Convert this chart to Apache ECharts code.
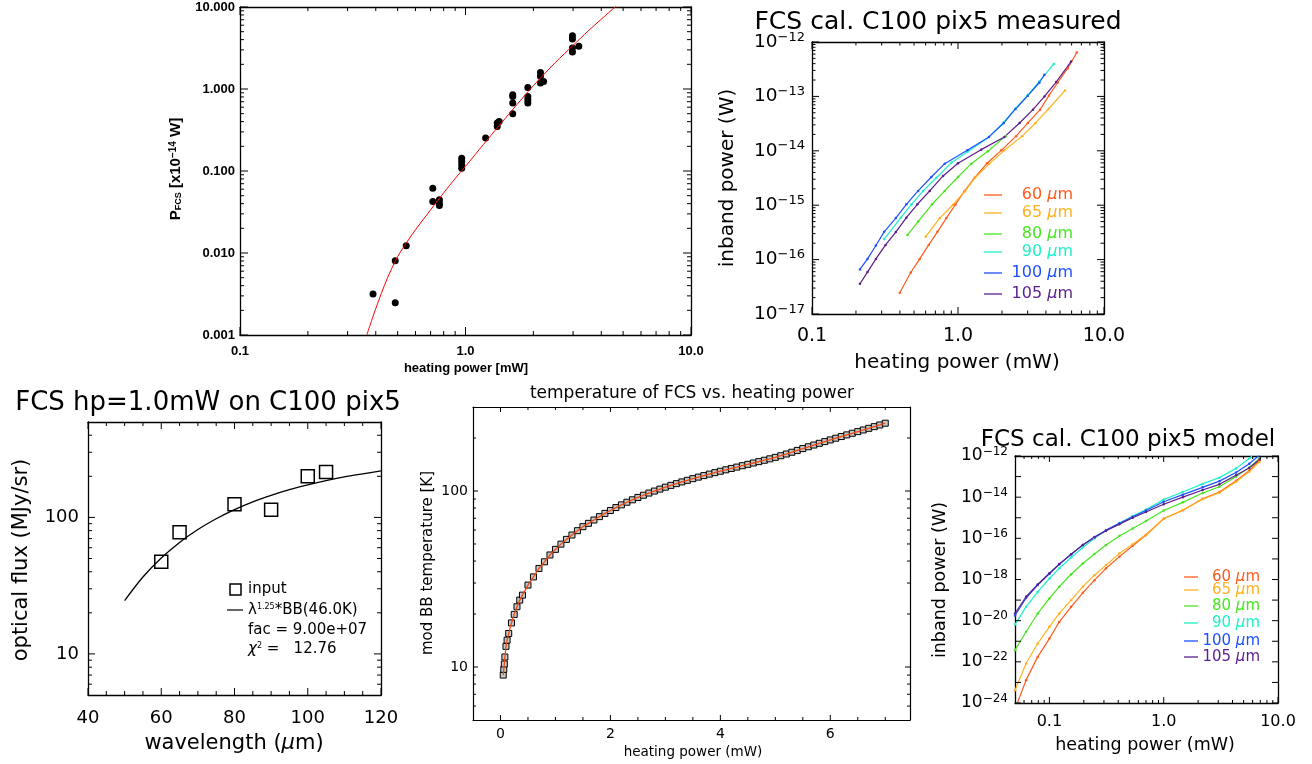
<!DOCTYPE html>
<html>
<head>
<meta charset="utf-8">
<script src="https://cdn.jsdelivr.net/npm/echarts@6/dist/echarts.min.js"></script>
<style>
  html, body { margin: 0; padding: 0; background: #fff; }
  #chart { width: 1312px; height: 764px; }
</style>
</head>
<body>
<div id="chart"></div>
<script>
// panel 1: P_FCS vs heating power (points + fit)
const p1Heat = [0.389, 0.488, 0.488, 0.546, 0.716, 0.716, 0.766, 0.766, 0.766, 0.962, 0.962, 0.962, 0.962,
  1.228, 1.383, 1.383, 1.41, 1.62, 1.62, 1.62, 1.62, 1.89, 1.89, 1.89, 1.89, 2.15, 2.15, 2.15, 2.22,
  2.98, 2.98, 2.98, 2.98, 3.18];
const p1Power = [0.00317, 0.00248, 0.00807, 0.0123, 0.0617, 0.0424, 0.0445, 0.0379, 0.0405, 0.1435, 0.1306, 0.119, 0.1083,
  0.252, 0.349, 0.384, 0.402, 0.851, 0.811, 0.673, 0.499, 1.045, 0.811, 0.74, 0.673, 1.594, 1.426, 1.18, 1.237,
  4.47, 4.07, 3.16, 2.82, 3.31];
const p1FitHeat = [0.365, 0.40, 0.45, 0.50, 0.55, 0.60, 0.70, 0.80, 0.90, 1.0, 1.2, 1.4, 1.6, 1.8, 2.0, 2.5, 3.0, 3.5, 4.0, 4.7];
const p1FitPower = [0.001, 0.0021, 0.0049, 0.0090, 0.0136, 0.0192, 0.0335, 0.054, 0.081, 0.114, 0.21, 0.35, 0.54, 0.79, 1.1, 2.1, 3.4, 5.1, 7.1, 10.5];
const p1XTicks = [0.1, 1, 10];
const p1YTicks = [0.001, 0.01, 0.1, 1, 10];

// panel 2: measured inband power per band
const bands = ['60', '65', '80', '90', '100', '105'];
const m60Heat = [0.399, 0.475, 0.547, 0.630, 0.723, 0.832, 0.959, 1.11, 1.30, 1.58, 1.98, 2.50, 3.01, 3.65, 4.19, 4.82, 5.65, 6.51];
const m60Power = [2.45e-17, 5.8e-17, 1.03e-16, 1.86e-16, 3.24e-16, 5.8e-16, 1.02e-15, 1.83e-15, 3.2e-15, 5.9e-15, 1.02e-14, 1.86e-14, 3.25e-14, 5.7e-14, 1.03e-13, 1.8e-13, 3.3e-13, 6.4e-13];
const m65Heat = [0.601, 0.75, 0.925, 1.12, 1.31, 1.64, 2.08, 2.75, 3.40, 4.17, 5.41];
const m65Power = [2.64e-16, 5.8e-16, 1.02e-15, 1.83e-15, 3.2e-15, 5.8e-15, 1.02e-14, 1.86e-14, 3.25e-14, 5.87e-14, 1.29e-13];
const m80Heat = [0.451, 0.533, 0.664, 0.811, 1.0, 1.233, 1.60, 2.12];
const m80Power = [2.82e-16, 5.0e-16, 1.04e-15, 1.83e-15, 3.3e-15, 5.8e-15, 9.8e-15, 1.86e-14];
const m90Heat = [0.312, 0.406, 0.48, 0.577, 0.711, 0.90, 1.158, 1.63, 2.06, 2.48, 3.01, 3.61, 4.53];
const m90Power = [2.39e-16, 5.9e-16, 1.04e-15, 1.83e-15, 3.2e-15, 6.0e-15, 9.5e-15, 1.8e-14, 3.35e-14, 6.0e-14, 1.07e-13, 1.88e-13, 3.96e-13];
const m100Heat = [0.213, 0.240, 0.274, 0.312, 0.375, 0.443, 0.533, 0.657, 0.811, 1.158, 1.63, 2.06, 2.48, 3.01, 3.61, 3.91];
const m100Power = [6.6e-17, 1.03e-16, 1.82e-16, 3.24e-16, 5.8e-16, 1.04e-15, 1.83e-15, 3.3e-15, 5.8e-15, 1.02e-14, 1.8e-14, 3.25e-14, 5.87e-14, 1.03e-13, 1.8e-13, 2.5e-13];
const m105Heat = [0.213, 0.240, 0.274, 0.319, 0.375, 0.443, 0.527, 0.640, 0.79, 1.0, 1.44, 2.08, 2.64, 3.26, 3.91, 4.70, 5.95];
const m105Power = [3.6e-17, 5.9e-17, 1.03e-16, 1.86e-16, 3.2e-16, 5.9e-16, 1.04e-15, 1.83e-15, 3.45e-15, 5.9e-15, 1.05e-14, 1.8e-14, 3.25e-14, 5.7e-14, 1.0e-13, 1.83e-13, 4.37e-13];
const p2XTicks = [0.1, 1, 10];
const p2YTicks = [1e-17, 1e-16, 1e-15, 1e-14, 1e-13, 1e-12];

// panel 3: optical flux vs wavelength
const inWave = [60, 65, 80, 90, 100, 105];
const inFlux = [47.4, 77.7, 125, 114, 200, 215];
const fitWave = [50, 55, 60, 65, 70, 75, 80, 85, 90, 95, 100, 105, 110, 115, 120];
const fitFlux = [24.6, 36.6, 50.4, 65.6, 81.5, 97.7, 114, 130, 145, 159.5, 173, 186, 198, 208.5, 219];
const p3XTicks = [40, 60, 80, 100, 120];
const p3YTicks = [10, 100];

// panel 4: mod BB temperature vs heating power
const tempHeat = [0.05, 0.06, 0.07, 0.08, 0.1, 0.12, 0.15, 0.2, 0.25, 0.3, 0.35, 0.4,
  0.5, 0.6, 0.7, 0.8, 0.9, 1.0, 1.1, 1.2, 1.3, 1.4, 1.5, 1.6, 1.7, 1.8, 1.9, 2.0,
  2.1, 2.2, 2.3, 2.4, 2.5, 2.6, 2.7, 2.8, 2.9, 3.0, 3.1, 3.2, 3.3, 3.4, 3.5, 3.6, 3.7, 3.8, 3.9, 4.0,
  4.1, 4.2, 4.3, 4.4, 4.5, 4.6, 4.7, 4.8, 4.9, 5.0, 5.1, 5.2, 5.3, 5.4, 5.5, 5.6, 5.7, 5.8, 5.9, 6.0,
  6.1, 6.2, 6.3, 6.4, 6.5, 6.6, 6.7, 6.8, 6.9, 7.0];
const tempK = [9.0, 9.7, 10.4, 11.4, 13.1, 14.2, 15.5, 17.8, 19.9, 22.0, 24.0, 25.6,
  29.2, 32.5, 36.3, 39.6, 43.3, 46.6, 49.9, 53.1, 56.2, 59.5, 62.7, 65.5, 68.4, 71.5, 74.6, 77.5,
  80.5, 83.4, 86.3, 89.1, 91.9, 94.6, 97.3, 99.9, 102.5, 105.1, 107.6, 110.1, 112.6, 115.0, 117.5, 119.9, 122.3, 124.7, 127.1, 129.5,
  131.9, 134.3, 136.7, 139.2, 141.7, 144.2, 146.8, 149.5, 152.3, 155.3, 158.6, 162.2, 166.0, 170.0, 174.2, 178.3, 182.4, 186.6, 190.8, 195.1,
  199.4, 203.8, 208.3, 212.8, 217.4, 222.1, 227.0, 232.0, 237.2, 242.7];
const p4XTicks = [0, 2, 4, 6];
const p4YTicks = [10, 100];

// panel 5: model inband power per band
const modelHeat = [0.05, 0.0625, 0.079, 0.1, 0.122, 0.155, 0.196, 0.248, 0.313, 0.41, 0.536, 0.70, 1.0, 1.47, 2.19, 3.07, 4.3, 5.6, 6.9];
const mod60 = [5.0e-25, 1.29e-23, 1.74e-22, 1.35e-21, 8.7e-21, 4.7e-20, 2.24e-19, 9.3e-19, 3.5e-18, 1.29e-17, 4.4e-17, 1.45e-16, 8.9e-16, 2.3e-15, 8.3e-15, 1.78e-14, 6.3e-14, 1.95e-13, 6.3e-13];
const mod65 = [4.2e-24, 8.3e-23, 7.8e-22, 5.0e-21, 2.24e-20, 1.0e-19, 4.5e-19, 1.62e-18, 5.0e-18, 1.86e-17, 5.2e-17, 1.55e-16, 8.9e-16, 2.4e-15, 7.9e-15, 1.66e-14, 5.6e-14, 1.74e-13, 5.2e-13];
const mod80 = [3.7e-22, 2.9e-21, 2.24e-20, 1.2e-19, 4.5e-19, 1.8e-18, 6.0e-18, 1.74e-17, 4.7e-17, 1.3e-16, 3.0e-16, 6.9e-16, 2.24e-15, 5.6e-15, 1.58e-14, 3.2e-14, 1.0e-13, 2.8e-13, 7.6e-13];
const mod90 = [6.6e-21, 4.7e-20, 2.5e-19, 1.12e-18, 3.5e-18, 1.17e-17, 3.6e-17, 1.0e-16, 2.4e-16, 5.6e-16, 1.2e-15, 2.5e-15, 7.6e-15, 1.78e-14, 4.4e-14, 8.9e-14, 2.5e-13, 7.6e-13, 2.0e-12];
const mod100 = [1.78e-20, 1.26e-19, 5.4e-19, 1.9e-18, 5.5e-18, 1.7e-17, 4.8e-17, 1.17e-16, 2.5e-16, 5.4e-16, 1.12e-15, 2.24e-15, 6.0e-15, 1.32e-14, 3.0e-14, 6.0e-14, 1.58e-13, 4.2e-13, 1.12e-12];
const mod105 = [2.24e-20, 1.45e-19, 5.75e-19, 2.0e-18, 5.6e-18, 1.7e-17, 4.7e-17, 1.12e-16, 2.34e-16, 4.9e-16, 1.0e-15, 1.9e-15, 4.5e-15, 1.0e-14, 2.24e-14, 4.2e-14, 1.17e-13, 2.6e-13, 6.8e-13];
const p5XTicks = [0.1, 1, 10];
const p5YTicks = [1e-24, 1e-22, 1e-20, 1e-18, 1e-16, 1e-14, 1e-12];
const p5YMinor = [1e-23, 1e-21, 1e-19, 1e-17, 1e-15, 1e-13];

const bandColors = ['#ff5a1e', '#ffb21e', '#46e61e', '#1ef0c8', '#1e50ff', '#5a1e8c'];
const HERSHEY = '"DejaVu Sans", sans-serif';
const HELV = '"Liberation Sans", Arial, sans-serif';

function logMinors(min, max) {
  let out = [];
  for (let e = Math.floor(Math.log10(min)); e <= Math.ceil(Math.log10(max)); e++) {
    for (let m = 2; m <= 9; m++) {
      let v = +(m * Math.pow(10, e)).toPrecision(6);
      if (v > min && v < max) out.push(v);
    }
  }
  return out;
}
function linMinors(min, max, step, major) {
  let out = [];
  for (let v = Math.ceil(min / step) * step; v <= max + 1e-9; v += step) {
    let r = +v.toFixed(6);
    if (r > min && Math.abs(r / major - Math.round(r / major)) > 1e-6) out.push(r);
  }
  return out;
}
function sup(v) {
  return '{b|10}{s|\u2212' + (-Math.round(Math.log10(v))) + '}';
}

const grids = [
  {left: 240, top: 7, width: 451, height: 328},
  {left: 812, top: 42, width: 292, height: 272},
  {left: 88, top: 422, width: 293, height: 273},
  {left: 473, top: 407, width: 437, height: 313},
  {left: 1015, top: 456, width: 263, height: 247}
];

let xAxes = [], yAxes = [];
// main axis with labels, plus a mirrored one on the opposite side (box)
function addAxes(list, dim, gi, c) {
  const sides = dim === 'x' ? ['bottom', 'top'] : ['left', 'right'];
  const first = list.length;
  sides.forEach((pos, k) => {
    let ax = {
      type: c.type, gridIndex: gi, min: c.min, max: c.max, position: pos,
      splitLine: {show: false},
      axisLine: {show: true, onZero: false, lineStyle: {color: '#000', width: c.lineWidth || 1}},
      axisTick: {show: false},
      axisLabel: k === 0 ? Object.assign({show: true, customValues: c.major, color: '#000'}, c.label) : {show: false}
    };
    if (c.type === 'log') ax.logBase = 10;
    list.push(ax);
  });
  return first;
}

const fix1 = v => Number(v).toFixed(1);
const p1Lbl = {fontFamily: HELV, fontWeight: 'bold', fontSize: 13};
const x1 = addAxes(xAxes, 'x', 0, {type: 'log', min: 0.1, max: 10, major: p1XTicks,
  lineWidth: 1.3, label: Object.assign({formatter: fix1, margin: 10}, p1Lbl)});
const y1 = addAxes(yAxes, 'y', 0, {type: 'log', min: 0.001, max: 10, major: p1YTicks,
  lineWidth: 1.3, label: Object.assign({formatter: v => Number(v).toFixed(3), margin: 5}, p1Lbl)});

const supRich = (b, s) => ({
  b: {fontFamily: HERSHEY, fontSize: b, color: '#000', lineHeight: b + 4},
  s: {fontFamily: HERSHEY, fontSize: s, color: '#000', verticalAlign: 'top', lineHeight: s}
});
const x2 = addAxes(xAxes, 'x', 1, {type: 'log', min: 0.1, max: 10, major: p2XTicks,
  lineWidth: 1.3, label: {formatter: fix1, fontFamily: HERSHEY, fontSize: 19, margin: 13}});
const y2 = addAxes(yAxes, 'y', 1, {type: 'log', min: 1e-17, max: 1e-12, major: p2YTicks,
  lineWidth: 1.3, label: {formatter: sup, rich: supRich(18.5, 13), margin: 7}});

const x3 = addAxes(xAxes, 'x', 2, {type: 'value', min: 40, max: 120, major: p3XTicks,
  lineWidth: 1.3, label: {fontFamily: HERSHEY, fontSize: 18, margin: 14}});
const y3 = addAxes(yAxes, 'y', 2, {type: 'log', min: 5, max: 500, major: p3YTicks,
  lineWidth: 1.3, label: {fontFamily: HERSHEY, fontSize: 18, margin: 9}});

const x4 = addAxes(xAxes, 'x', 3, {type: 'value', min: -0.5, max: 7.45, major: p4XTicks,
  lineWidth: 1.2, label: {fontFamily: HERSHEY, fontSize: 14, margin: 7}});
const y4 = addAxes(yAxes, 'y', 3, {type: 'log', min: 5, max: 300, major: p4YTicks,
  lineWidth: 1.2, label: {fontFamily: HERSHEY, fontSize: 14, margin: 5}});

const x5 = addAxes(xAxes, 'x', 4, {type: 'log', min: 0.05, max: 10, major: p5XTicks,
  lineWidth: 1.3, label: {formatter: fix1, fontFamily: HERSHEY, fontSize: 16, margin: 11}});
const y5 = addAxes(yAxes, 'y', 4, {type: 'log', min: 1e-24, max: 1e-12, major: p5YTicks,
  lineWidth: 1.3, label: {formatter: sup, rich: supRich(17, 12), margin: 7}});

const zip = (a, b) => a.map((v, i) => [v, b[i]]);
let series = [];

// inward tick marks on all four sides: thin rect symbols sitting on the box edges
function tickMarks(xi, yi, pts, size, offset) {
  return {
    type: 'scatter', xAxisIndex: xi, yAxisIndex: yi, silent: true, clip: false, z: 10,
    data: pts, symbol: 'rect', symbolSize: size, symbolOffset: offset,
    itemStyle: {color: '#000', opacity: 1}
  };
}
function addTicks(xi, yi, xr, yr, xVals, yVals, xLen, yLen) {
  series.push(tickMarks(xi, yi, xVals.map(v => [v, yr[0]]), [1, xLen], [0, -xLen / 2]));
  series.push(tickMarks(xi, yi, xVals.map(v => [v, yr[1]]), [1, xLen], [0, xLen / 2]));
  series.push(tickMarks(xi, yi, yVals.map(v => [xr[0], v]), [yLen, 1], [yLen / 2, 0]));
  series.push(tickMarks(xi, yi, yVals.map(v => [xr[1], v]), [yLen, 1], [-yLen / 2, 0]));
}
addTicks(x1, y1, [0.1, 10], [0.001, 10], p1XTicks, p1YTicks, 8, 8);
addTicks(x1, y1, [0.1, 10], [0.001, 10], logMinors(0.1, 10), logMinors(0.001, 10), 4, 4);
addTicks(x2, y2, [0.1, 10], [1e-17, 1e-12], p2XTicks, p2YTicks, 7, 7);
addTicks(x2, y2, [0.1, 10], [1e-17, 1e-12], logMinors(0.1, 10), logMinors(1e-17, 1e-12), 3.5, 3.5);
addTicks(x3, y3, [40, 120], [5, 500], p3XTicks, p3YTicks, 7, 7);
addTicks(x3, y3, [40, 120], [5, 500], linMinors(40, 120, 5, 20), logMinors(5, 500), 4, 4);
addTicks(x4, y4, [-0.5, 7.45], [5, 300], p4XTicks, p4YTicks, 5, 5);
addTicks(x4, y4, [-0.5, 7.45], [5, 300], linMinors(-0.5, 7.45, 0.5, 2), logMinors(5, 300), 3, 3);
addTicks(x5, y5, [0.05, 10], [1e-24, 1e-12], p5XTicks, p5YTicks, 6, 6);
addTicks(x5, y5, [0.05, 10], [1e-24, 1e-12], logMinors(0.05, 10), p5YMinor, 3, 6);

series.push({type: 'scatter', xAxisIndex: x1, yAxisIndex: y1, data: zip(p1Heat, p1Power),
  symbol: 'circle', symbolSize: 7, itemStyle: {color: '#000', opacity: 1}});
series.push({type: 'line', xAxisIndex: x1, yAxisIndex: y1, data: zip(p1FitHeat, p1FitPower),
  smooth: 0.3, showSymbol: false, lineStyle: {color: '#ff0000', width: 1}});

const measHeat = [m60Heat, m65Heat, m80Heat, m90Heat, m100Heat, m105Heat];
const measPower = [m60Power, m65Power, m80Power, m90Power, m100Power, m105Power];
bands.forEach((b, i) => {
  series.push({type: 'line', xAxisIndex: x2, yAxisIndex: y2, data: zip(measHeat[i], measPower[i]),
    symbol: 'circle', symbolSize: 2.5, itemStyle: {color: bandColors[i]},
    lineStyle: {color: bandColors[i], width: 1.2}});
});

series.push({type: 'line', xAxisIndex: x3, yAxisIndex: y3, data: zip(fitWave, fitFlux),
  smooth: 0.3, showSymbol: false, lineStyle: {color: '#000', width: 1.3}});
series.push({type: 'scatter', xAxisIndex: x3, yAxisIndex: y3, data: zip(inWave, inFlux),
  symbol: 'rect', symbolSize: 13, itemStyle: {color: 'rgba(0,0,0,0)', borderColor: '#000', borderWidth: 1.5, opacity: 1}});

series.push({type: 'scatter', xAxisIndex: x4, yAxisIndex: y4, data: zip(tempHeat, tempK), z: 2,
  symbol: 'rect', symbolSize: 6, itemStyle: {color: '#c8c8c8', borderColor: '#000', borderWidth: 1, opacity: 1}});
series.push({type: 'line', xAxisIndex: x4, yAxisIndex: y4, data: zip(tempHeat, tempK), z: 3,
  showSymbol: false, lineStyle: {color: '#ee4a10', width: 1.3}});

const modPower = [mod60, mod65, mod80, mod90, mod100, mod105];
bands.forEach((b, i) => {
  series.push({type: 'line', xAxisIndex: x5, yAxisIndex: y5, data: zip(modelHeat, modPower[i]),
    symbol: 'circle', symbolSize: 2.5, itemStyle: {color: bandColors[i]},
    lineStyle: {color: bandColors[i], width: 1.2}});
});

// texts
function txt(x, y, text, size, opt) {
  opt = opt || {};
  return {
    type: 'text', x: x, y: y, rotation: opt.rot ? Math.PI / 2 : 0, silent: true,
    style: {
      text: text, fill: opt.color || '#000', align: opt.align || 'center', verticalAlign: 'middle',
      font: (opt.weight || 'normal') + ' ' + size + 'px ' + (opt.family || HERSHEY),
      rich: opt.rich
    }
  };
}
const umRich = (size, color) => ({
  i: {fontFamily: HERSHEY, fontSize: size, fontStyle: 'italic', color: color}
});
function seg(a, b, c, d, color, w) {
  return {type: 'line', silent: true, shape: {x1: a, y1: b, x2: c, y2: d},
    style: {stroke: color, lineWidth: w}};
}

let graphics = [];
// panel 1
graphics.push(txt(176, 169, 'P{sb|FCS} [x10{sp|\u221214} W]', 15, {rot: true, weight: 'bold', family: HELV, rich: {
  sb: {fontFamily: HELV, fontWeight: 'bold', fontSize: 9, verticalAlign: 'bottom', lineHeight: 9},
  sp: {fontFamily: HELV, fontWeight: 'bold', fontSize: 10, verticalAlign: 'top', lineHeight: 10}
}}));
graphics.push(txt(466, 368, 'heating power [mW]', 13, {weight: 'bold', family: HELV}));

// panel 2
graphics.push(txt(938, 22, 'FCS cal. C100 pix5 measured', 25));
graphics.push(txt(728, 178, 'inband power (W)', 20, {rot: true}));
graphics.push(txt(957, 363, 'heating power (mW)', 20));
const p2Rows = [195, 213, 234, 252, 273, 294];
bands.forEach((b, i) => {
  graphics.push(seg(984, p2Rows[i], 1002, p2Rows[i], bandColors[i], 1.3));
  graphics.push(txt(1073, p2Rows[i], b + ' {i|\u00b5}m', 16, {align: 'right', color: bandColors[i], rich: umRich(16, bandColors[i])}));
});

// panel 3
graphics.push(txt(208, 403, 'FCS hp=1.0mW on C100 pix5', 26));
graphics.push(txt(22, 560, 'optical flux (MJy/sr)', 21, {rot: true}));
graphics.push(txt(234, 744, 'wavelength ({i|\u00b5}m)', 21, {rich: umRich(21, '#000')}));
graphics.push({type: 'rect', silent: true, shape: {x: 230, y: 584, width: 11, height: 11},
  style: {fill: 'none', stroke: '#000', lineWidth: 1.5}});
graphics.push(txt(248, 589, 'input', 15, {align: 'left'}));
graphics.push(seg(227, 610, 243, 610, '#000', 1.2));
graphics.push(txt(248, 610, '\u03bb{sp|1.25}*BB(46.0K)', 15, {align: 'left', rich: {
  sp: {fontFamily: HERSHEY, fontSize: 8, verticalAlign: 'top', lineHeight: 8}
}}));
graphics.push(txt(248, 630, 'fac = 9.00e+07', 15, {align: 'left'}));
graphics.push(txt(248, 649, '{i|\u03c7}{sp|2} =   12.76', 15, {align: 'left', rich: {
  i: {fontFamily: HERSHEY, fontSize: 15, fontStyle: 'italic'},
  sp: {fontFamily: HERSHEY, fontSize: 8, verticalAlign: 'top', lineHeight: 8}
}}));

// panel 4
graphics.push(txt(692, 394, 'temperature of FCS vs. heating power', 17));
graphics.push(txt(428, 563, 'mod BB temperature [K]', 15, {rot: true}));
graphics.push(txt(693, 752, 'heating power (mW)', 13.5));

// panel 5
graphics.push(txt(1128, 440, 'FCS cal. C100 pix5 model', 23));
graphics.push(txt(940, 580, 'inband power (W)', 17.5, {rot: true}));
graphics.push(txt(1145, 745, 'heating power (mW)', 17.5));
const p5Rows = [577, 590, 606, 623, 641, 657];
bands.forEach((b, i) => {
  graphics.push(seg(1184, p5Rows[i], 1198, p5Rows[i], bandColors[i], 1.3));
  graphics.push(txt(1260, p5Rows[i], b + ' {i|\u00b5}m', 15, {align: 'right', color: bandColors[i], rich: umRich(15, bandColors[i])}));
});

let chart = echarts.init(document.getElementById('chart'), null, {renderer: 'canvas'});
chart.setOption({
  animation: false,
  backgroundColor: '#fff',
  grid: grids,
  xAxis: xAxes,
  yAxis: yAxes,
  series: series,
  graphic: graphics
});
</script>
</body>
</html>
